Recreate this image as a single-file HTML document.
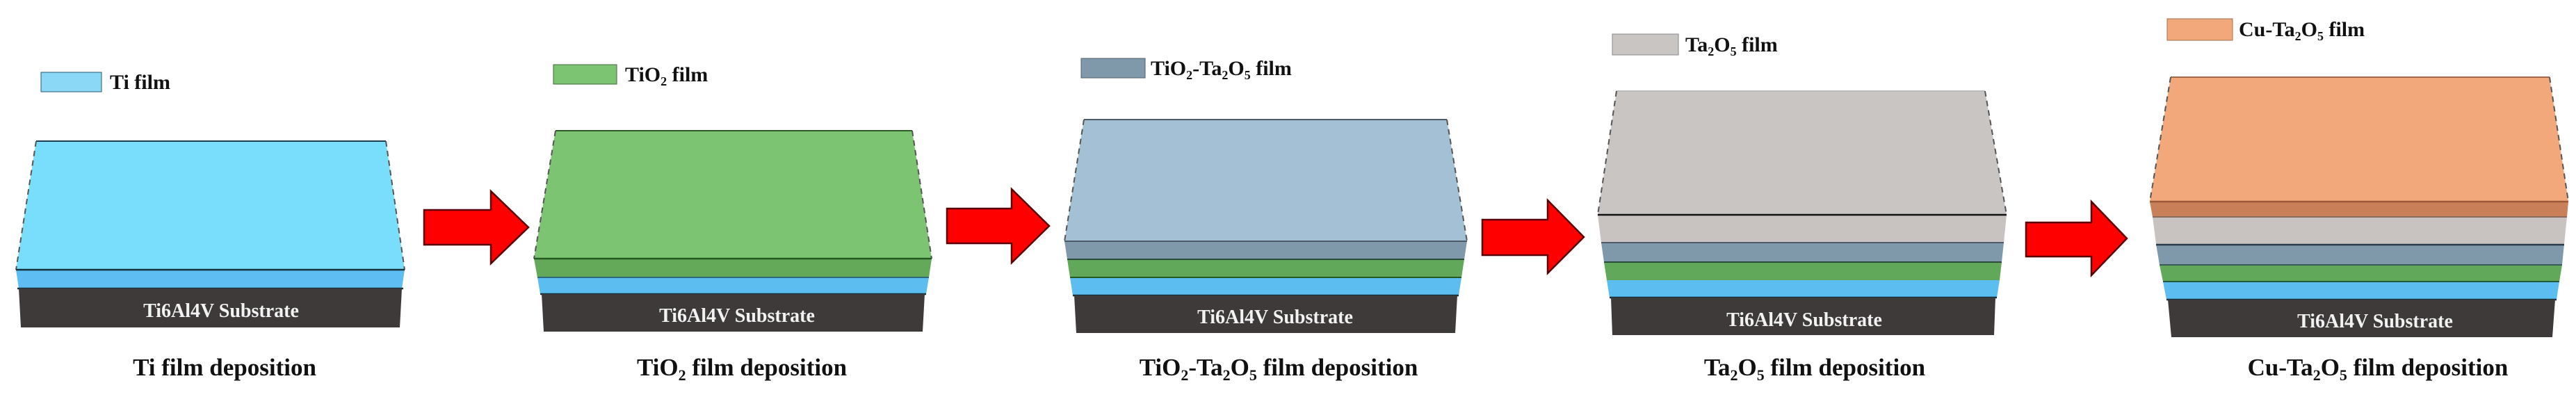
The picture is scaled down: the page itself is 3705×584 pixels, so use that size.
<!DOCTYPE html>
<html><head><meta charset="utf-8"><style>
html,body{margin:0;padding:0;background:#fff;}
svg{display:block;}
text{font-family:"Liberation Serif",serif;font-weight:bold;}
.cap{font-size:35px;fill:#111;}
.leg{font-size:30px;fill:#111;}
.sub{font-size:28px;fill:#f2f2f2;}
.ar{fill:#f00;stroke:#5a0000;stroke-width:2.5;}
.dash{stroke:#555;stroke-width:2;stroke-dasharray:8 6;fill:none;}
</style></head><body>
<svg width="3705" height="584" viewBox="0 0 3705 584" xmlns="http://www.w3.org/2000/svg">
<rect width="3705" height="584" fill="#fff"/>

<!-- Panel 1 -->
<rect x="59" y="104" width="87" height="28" fill="#8ad8f6" stroke="#2a5a70" stroke-width="1"/>
<text class="leg" x="158" y="128">Ti film</text>
<polygon points="52,203 555,203 582,388 23,388" fill="#79DEFB"/>
<line x1="52" y1="203" x2="555" y2="203" stroke="#1d4050" stroke-width="2"/>
<line x1="52" y1="203" x2="23" y2="388" class="dash"/>
<line x1="555" y1="203" x2="582" y2="388" class="dash"/>
<polygon points="23,388 582,388 578,415 27,415" fill="#5EBDF2"/>
<line x1="23" y1="388" x2="582" y2="388" stroke="#14303c" stroke-width="2.5"/>
<line x1="25" y1="415" x2="580" y2="415" stroke="#14303c" stroke-width="2.5"/>
<polygon points="27,415 578,415 575,471 30,471" fill="#3E3A3A"/>
<text class="sub" x="318" y="456" text-anchor="middle">Ti6Al4V Substrate</text>
<text class="cap" x="323" y="540" text-anchor="middle">Ti film deposition</text>
<polygon class="ar" points="610,302 706,302 706,275 760,327 706,379 706,352 610,352"/>

<!-- Panel 2 -->
<rect x="796" y="93" width="91" height="28" fill="#7DC472" stroke="#3c6a36" stroke-width="1"/>
<text class="leg" x="899" y="117">TiO<tspan font-size="18" dy="6">2</tspan><tspan dy="-6"> film</tspan></text>
<polygon points="799,188 1312,188 1340,372 768,372" fill="#7DC472"/>
<line x1="799" y1="188" x2="1312" y2="188" stroke="#2f5a2a" stroke-width="2"/>
<line x1="799" y1="188" x2="768" y2="372" class="dash"/>
<line x1="1312" y1="188" x2="1340" y2="372" class="dash"/>
<polygon points="768,372 1340,372 1336,399 773,399" fill="#64A85A"/>
<line x1="768" y1="372" x2="1340" y2="372" stroke="#245a22" stroke-width="2.5"/>
<polygon points="773,399 1336,399 1332,423 777,423" fill="#5BBDF0"/>
<line x1="773" y1="399" x2="1336" y2="399" stroke="#2c6a7a" stroke-width="2"/>
<line x1="777" y1="423" x2="1332" y2="423" stroke="#14303c" stroke-width="2.5"/>
<polygon points="779,423 1330,423 1327,477 782,477" fill="#3E3A3A"/>
<text class="sub" x="1060" y="463" text-anchor="middle">Ti6Al4V Substrate</text>
<text class="cap" x="1067" y="540" text-anchor="middle">TiO<tspan font-size="22" dy="7">2</tspan><tspan dy="-7"> film deposition</tspan></text>
<polygon class="ar" points="1362,300 1455,300 1455,272 1509,325 1455,378 1455,350 1362,350"/>

<!-- Panel 3 -->
<rect x="1555" y="84" width="92" height="28" fill="#7F99AA" stroke="#50606a" stroke-width="1"/>
<text class="leg" x="1655" y="108">TiO<tspan font-size="18" dy="6">2</tspan><tspan dy="-6">-Ta</tspan><tspan font-size="18" dy="6">2</tspan><tspan dy="-6">O</tspan><tspan font-size="18" dy="6">5</tspan><tspan dy="-6"> film</tspan></text>
<polygon points="1559,172 2081,172 2110,347 1531,347" fill="#A3C0D4"/>
<line x1="1559" y1="172" x2="2081" y2="172" stroke="#4a5a66" stroke-width="2"/>
<line x1="1559" y1="172" x2="1531" y2="347" class="dash"/>
<line x1="2081" y1="172" x2="2110" y2="347" class="dash"/>
<polygon points="1531,347 2110,347 2106,373 1535,373" fill="#7F99AA"/>
<line x1="1531" y1="347" x2="2110" y2="347" stroke="#4a5a66" stroke-width="2"/>
<polygon points="1535,373 2106,373 2102,399 1539,399" fill="#62A85A"/>
<line x1="1535" y1="373" x2="2106" y2="373" stroke="#2a4a3a" stroke-width="2"/>
<polygon points="1539,399 2102,399 2098,425 1543,425" fill="#5BBDF0"/>
<line x1="1539" y1="399" x2="2102" y2="399" stroke="#245a22" stroke-width="2"/>
<line x1="1543" y1="425" x2="2098" y2="425" stroke="#14303c" stroke-width="2.5"/>
<polygon points="1545,425 2096,425 2093,479 1548,479" fill="#3E3A3A"/>
<text class="sub" x="1834" y="465" text-anchor="middle">Ti6Al4V Substrate</text>
<text class="cap" x="1839" y="540" text-anchor="middle">TiO<tspan font-size="22" dy="7">2</tspan><tspan dy="-7">-Ta</tspan><tspan font-size="22" dy="7">2</tspan><tspan dy="-7">O</tspan><tspan font-size="22" dy="7">5</tspan><tspan dy="-7"> film deposition</tspan></text>
<polygon class="ar" points="2132,316 2226,316 2226,288 2278,341 2226,393 2226,367 2132,367"/>

<!-- Panel 4 -->
<rect x="2319" y="49" width="95" height="30" fill="#C9C5C3" stroke="#888" stroke-width="1"/>
<text class="leg" x="2424" y="74">Ta<tspan font-size="18" dy="6">2</tspan><tspan dy="-6">O</tspan><tspan font-size="18" dy="6">5</tspan><tspan dy="-6"> film</tspan></text>
<polygon points="2325,131 2855,131 2886,309 2298,309" fill="#C9C5C3"/>
<line x1="2325" y1="131" x2="2855" y2="131" stroke="#bbb" stroke-width="2"/>
<line x1="2325" y1="131" x2="2298" y2="309" class="dash"/>
<line x1="2855" y1="131" x2="2886" y2="309" class="dash"/>
<polygon points="2298,309 2886,309 2882,349 2303,349" fill="#C8C2C0"/>
<line x1="2298" y1="309" x2="2886" y2="309" stroke="#111" stroke-width="2.5"/>
<polygon points="2303,349 2882,349 2879,377 2307,377" fill="#7F99AA"/>
<line x1="2303" y1="349" x2="2882" y2="349" stroke="#4a5a66" stroke-width="2"/>
<polygon points="2307,377 2879,377 2876,403 2311,403" fill="#62A85A"/>
<line x1="2307" y1="377" x2="2879" y2="377" stroke="#2a4a3a" stroke-width="2"/>
<polygon points="2311,403 2876,403 2872,428 2315,428" fill="#5BBDF0"/>
<line x1="2315" y1="428" x2="2872" y2="428" stroke="#14303c" stroke-width="2.5"/>
<polygon points="2317,428 2870,428 2868,482 2319,482" fill="#3E3A3A"/>
<text class="sub" x="2595" y="469" text-anchor="middle">Ti6Al4V Substrate</text>
<text class="cap" x="2610" y="540" text-anchor="middle">Ta<tspan font-size="22" dy="7">2</tspan><tspan dy="-7">O</tspan><tspan font-size="22" dy="7">5</tspan><tspan dy="-7"> film deposition</tspan></text>
<polygon class="ar" points="2914,320 3008,320 3008,290 3059,343 3008,396 3008,369 2914,369"/>

<!-- Panel 5 -->
<rect x="3117" y="27" width="94" height="31" fill="#F2A87A" stroke="#a07050" stroke-width="1"/>
<text class="leg" x="3220" y="52">Cu-Ta<tspan font-size="18" dy="6">2</tspan><tspan dy="-6">O</tspan><tspan font-size="18" dy="6">5</tspan><tspan dy="-6"> film</tspan></text>
<polygon points="3122,111 3667,111 3694,290 3092,290" fill="#F2A87A"/>
<line x1="3122" y1="111" x2="3667" y2="111" stroke="#a06a4a" stroke-width="2"/>
<line x1="3122" y1="111" x2="3092" y2="290" class="dash"/>
<line x1="3667" y1="111" x2="3694" y2="290" class="dash"/>
<polygon points="3092,290 3694,290 3692,312 3096,312" fill="#C98059"/>
<line x1="3092" y1="290" x2="3694" y2="290" stroke="#9a5a3a" stroke-width="2.5"/>
<polygon points="3096,312 3692,312 3688,351 3101,351" fill="#C8C3C1"/>
<line x1="3096" y1="312" x2="3692" y2="312" stroke="#8a6a5a" stroke-width="2"/>
<polygon points="3101,351 3688,351 3685,381 3106,381" fill="#7F99AA"/>
<line x1="3101" y1="352" x2="3688" y2="352" stroke="#2a3a4a" stroke-width="2.5"/>
<polygon points="3106,381 3685,381 3681,405 3111,405" fill="#62A85A"/>
<line x1="3106" y1="381" x2="3685" y2="381" stroke="#3a5a5a" stroke-width="2"/>
<polygon points="3111,405 3681,405 3677,431 3116,431" fill="#5BBDF0"/>
<line x1="3111" y1="405" x2="3681" y2="405" stroke="#245a3a" stroke-width="2"/>
<line x1="3116" y1="431" x2="3677" y2="431" stroke="#14303c" stroke-width="2.5"/>
<polygon points="3118,431 3675,431 3671,485 3123,485" fill="#3E3A3A"/>
<text class="sub" x="3416" y="471" text-anchor="middle">Ti6Al4V Substrate</text>
<text class="cap" x="3420" y="540" text-anchor="middle">Cu-Ta<tspan font-size="22" dy="7">2</tspan><tspan dy="-7">O</tspan><tspan font-size="22" dy="7">5</tspan><tspan dy="-7"> film deposition</tspan></text>
</svg>
</body></html>
